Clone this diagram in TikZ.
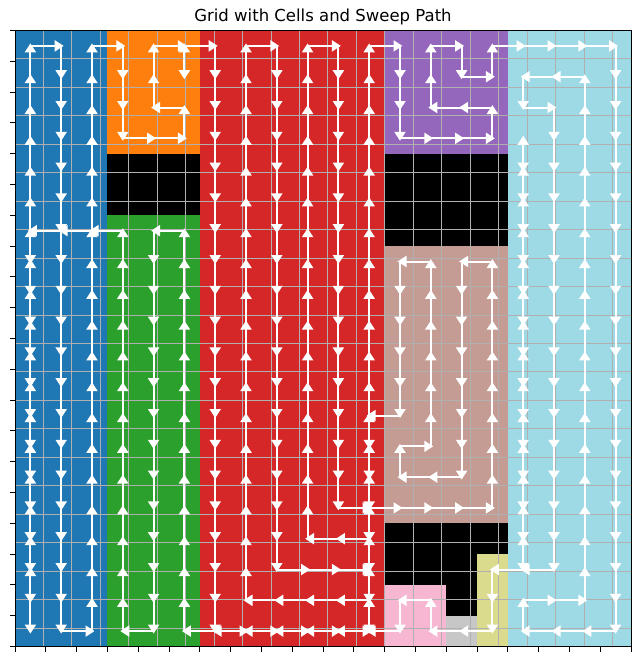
\documentclass[tikz,border=0pt]{standalone}
\usepackage{fontspec}
\setmainfont{DejaVu Sans}
\usetikzlibrary{arrows.meta}
\definecolor{tblue}{HTML}{1F77B4}
\definecolor{torange}{HTML}{FF7F0E}
\definecolor{tgreen}{HTML}{2CA02C}
\definecolor{tred}{HTML}{D62728}
\definecolor{tpurple}{HTML}{9467BD}
\definecolor{tbrown}{HTML}{C49C94}
\definecolor{tpink}{HTML}{F7B6D2}
\definecolor{tgray}{HTML}{C7C7C7}
\definecolor{tolive}{HTML}{DBDB8D}
\definecolor{tcyan}{HTML}{9EDAE5}
\definecolor{gridc}{HTML}{B0B0B0}
\newcommand{\vrun}[3]{%
  \pgfmathtruncatemacro{\mystep}{#3>#2 ? 1 : -1}%
  \pgfmathtruncatemacro{\mylast}{#3-\mystep}%
  \foreach \rr in {#2,...,\mylast}{%
    \pgfmathtruncatemacro{\rn}{\rr+\mystep}%
    \draw[arr] (p#1-\rr) -- (p#1-\rn);}%
}
\newcommand{\hrun}[3]{%
  \pgfmathtruncatemacro{\mystep}{#3>#2 ? 1 : -1}%
  \pgfmathtruncatemacro{\mylast}{#3-\mystep}%
  \foreach \cc in {#2,...,\mylast}{%
    \pgfmathtruncatemacro{\cn}{\cc+\mystep}%
    \draw[arr] (p\cc-#1) -- (p\cn-#1);}%
}
\begin{document}
\begin{tikzpicture}[x=1pt,y=-1pt,
  arr/.style={white, line width=2pt, shorten >=-2.5pt, -{Triangle[length=9pt,width=11pt]}},
  tick/.style={black, line width=0.9pt}]
\useasboundingbox (0,0) rectangle (640,661);
\fill[white] (0,0) rectangle (640,661);
\node[font=\fontsize{16.5}{19}\selectfont, anchor=base] (title) at (323,22) {Grid with Cells and Sweep Path};
\begin{scope}[shift={(15pt,-30.5pt)}, x=30.8pt, y=-30.8pt]
  % cells
  \fill[tblue] (0,0) rectangle (3,20);
  \fill[torange] (3,0) rectangle (6,4);
  \fill[black] (3,4) rectangle (6,6);
  \fill[tgreen] (3,6) rectangle (6,20);
  \fill[tred] (6,0) rectangle (12,20);
  \fill[tpurple] (12,0) rectangle (16,4);
  \fill[black] (12,4) rectangle (16,7);
  \fill[tbrown] (12,7) rectangle (16,16);
  \fill[black] (12,16) rectangle (16,17);
  \fill[black] (12,17) rectangle (15,18);
  \fill[black] (14,18) rectangle (15,19);
  \fill[tolive] (15,17) rectangle (16,20);
  \fill[tpink] (12,18) rectangle (14,20);
  \fill[tgray] (14,19) rectangle (15,20);
  \fill[tcyan] (16,0) rectangle (20,20);
  % grid
  \draw[gridc, line width=1pt] (0,0) grid (20,20);
  \draw[black, line width=1pt] (0,0) rectangle (20,20);
  \foreach \i in {0,...,20}{
    \draw[tick] (0,\i) -- ++(-5pt,0);
    \draw[tick] (\i,20) -- ++(0,-5pt);
  }
  % cell centres
  \foreach \c in {0,...,19}{\foreach \r in {0,...,19}{\coordinate (p\c-\r) at (\c+0.5,\r+0.5);}}
  % blue
  \vrun{0}{18}{0}
  \hrun{0}{0}{1}
  \vrun{1}{0}{19}
  \hrun{19}{1}{2}
  \vrun{2}{19}{0}
  \hrun{0}{2}{3}
  % orange
  \vrun{3}{0}{3}
  \hrun{3}{3}{5}
  \vrun{5}{3}{2}
  \hrun{2}{5}{4}
  \vrun{4}{2}{0}
  \hrun{0}{4}{5}
  \vrun{5}{0}{1}
  \vrun{5}{1}{0}
  \hrun{0}{5}{6}
  % red
  \vrun{6}{0}{19}
  \hrun{19}{6}{11}
  \hrun{18}{11}{7}
  \vrun{7}{18}{0}
  \hrun{0}{7}{8}
  \vrun{8}{0}{17}
  \hrun{17}{8}{11}
  \hrun{16}{11}{9}
  \vrun{9}{16}{0}
  \hrun{0}{9}{10}
  \vrun{10}{0}{15}
  \hrun{15}{10}{12}
  % brown
  \hrun{15}{12}{15}
  \vrun{15}{15}{7}
  \hrun{7}{15}{14}
  \vrun{14}{7}{14}
  \hrun{14}{14}{12}
  \vrun{12}{14}{13}
  \hrun{13}{12}{13}
  \vrun{13}{13}{7}
  \hrun{7}{13}{12}
  \vrun{12}{7}{12}
  \hrun{12}{12}{11}
  % transit and green
  \vrun{11}{12}{19}
  \hrun{19}{11}{5}
  \vrun{5}{19}{6}
  \hrun{6}{5}{4}
  \vrun{4}{6}{19}
  \hrun{19}{4}{3}
  \vrun{3}{19}{6}
  \hrun{6}{3}{0}
  \vrun{0}{6}{19}
  % column 11 up and purple
  \vrun{11}{19}{0}
  \hrun{0}{11}{12}
  \vrun{12}{0}{3}
  \hrun{3}{12}{15}
  \vrun{15}{3}{2}
  \hrun{2}{15}{13}
  \vrun{13}{2}{0}
  \hrun{0}{13}{14}
  \vrun{14}{0}{1}
  \hrun{1}{14}{15}
  \vrun{15}{1}{0}
  \hrun{0}{15}{19}
  % cyan
  \vrun{19}{0}{19}
  \hrun{19}{19}{16}
  \vrun{16}{19}{18}
  \hrun{18}{16}{18}
  \vrun{18}{18}{1}
  \hrun{1}{18}{16}
  \vrun{16}{1}{2}
  \hrun{2}{16}{17}
  \vrun{17}{2}{17}
  \hrun{17}{17}{15}
  \vrun{16}{17}{3}
  \vrun{16}{3}{17}
  % olive, gray, pink
  \vrun{15}{17}{19}
  \hrun{19}{15}{13}
  \vrun{13}{19}{18}
  \hrun{18}{13}{12}
  \vrun{12}{18}{19}
  \hrun{19}{12}{11}
\end{scope}
\end{tikzpicture}
\end{document}
